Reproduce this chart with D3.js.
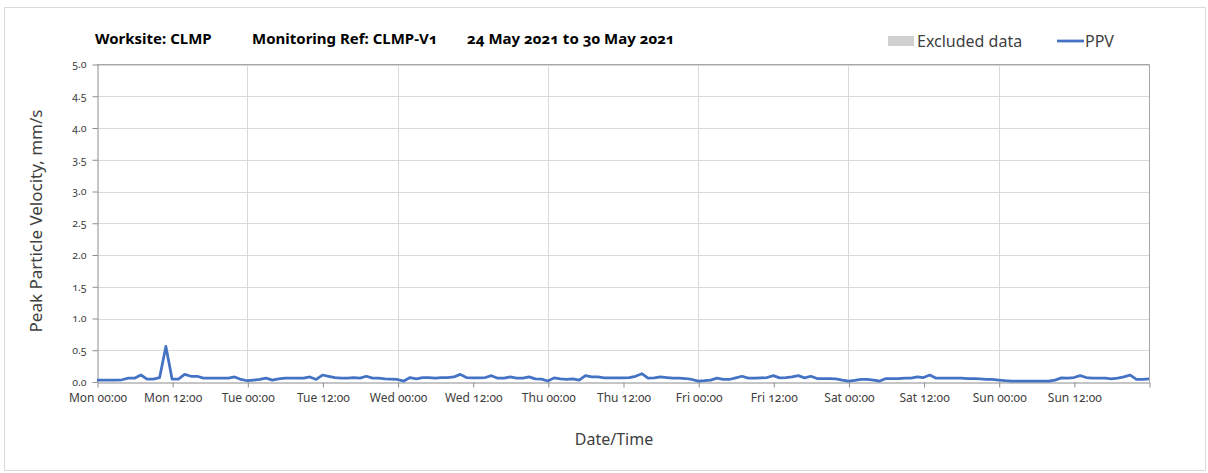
<!DOCTYPE html>
<html>
<head>
<meta charset="utf-8">
<script src="https://cdn.jsdelivr.net/npm/d3@7"></script>
<style>
  html, body { margin: 0; padding: 0; background: #ffffff; }
  svg text { font-family: "Noto Sans", "Open Sans", sans-serif; font-feature-settings: "onum" 1; }
</style>
</head>
<body>
<svg id="chart" width="1208" height="473"></svg>
<script>
// ---- DATA ----
const startDate = "2021-05-24T00:00:00";
const endDate = "2021-05-31T00:00:00";
// hourly Peak Particle Velocity (mm/s), one array per day (24 values each), plus final reading
const ppvMon = [0.03,0.03,0.03,0.03,0.035,0.06,0.06,0.11,0.045,0.045,0.07,0.56,0.045,0.045,0.12,0.09,0.09,0.06,0.06,0.06,0.06,0.06,0.08,0.04];
const ppvTue = [0.02,0.03,0.04,0.06,0.03,0.05,0.06,0.06,0.06,0.06,0.08,0.04,0.11,0.09,0.07,0.06,0.06,0.07,0.06,0.09,0.06,0.06,0.05,0.045];
const ppvWed = [0.04,0.015,0.07,0.05,0.07,0.07,0.06,0.07,0.07,0.08,0.12,0.07,0.065,0.065,0.07,0.1,0.06,0.06,0.08,0.06,0.06,0.08,0.05,0.045];
const ppvThu = [0.015,0.065,0.05,0.04,0.05,0.03,0.1,0.08,0.08,0.065,0.065,0.065,0.065,0.07,0.09,0.13,0.06,0.065,0.08,0.07,0.06,0.06,0.055,0.04];
const ppvFri = [0.015,0.02,0.03,0.06,0.04,0.04,0.065,0.09,0.06,0.06,0.065,0.07,0.1,0.065,0.07,0.08,0.1,0.065,0.09,0.055,0.055,0.055,0.05,0.03];
const ppvSat = [0.015,0.025,0.04,0.04,0.03,0.015,0.055,0.055,0.055,0.06,0.06,0.08,0.07,0.11,0.06,0.06,0.06,0.06,0.06,0.055,0.055,0.05,0.04,0.04];
const ppvSun = [0.03,0.02,0.015,0.015,0.015,0.015,0.015,0.015,0.015,0.03,0.065,0.06,0.07,0.1,0.07,0.06,0.06,0.06,0.05,0.06,0.08,0.11,0.04,0.04];
const ppvFinal = [0.05];
const yTicks = [0.0,0.5,1.0,1.5,2.0,2.5,3.0,3.5,4.0,4.5,5.0];
const titleParts = ["Worksite: CLMP", "Monitoring Ref: CLMP-V1", "24 May 2021 to 30 May 2021"];
const legendLabels = ["Excluded data", "PPV"];
const xAxisTitle = "Date/Time";
const yAxisTitle = "Peak Particle Velocity, mm/s";

// ---- BUILD ----
const ppv = [].concat(ppvMon, ppvTue, ppvWed, ppvThu, ppvFri, ppvSat, ppvSun, ppvFinal);
const t0 = new Date(startDate);
const t1 = new Date(endDate);
const series = ppv.map((v, i) => ({ t: d3.timeHour.offset(t0, i), v }));

const svg = d3.select("#chart");
const W = 1208, H = 473;
const plot = { left: 97, right: 1149, top: 64.5, bottom: 382 };

// outer frame
svg.append("rect").attr("x", 0).attr("y", 0).attr("width", W).attr("height", H).attr("fill", "#ffffff");
svg.append("rect").attr("x", 4.5).attr("y", 7.5).attr("width", 1201).attr("height", 463)
  .attr("fill", "#ffffff").attr("stroke", "#d9d9d9").attr("stroke-width", 1);

const x = d3.scaleTime().domain([t0, t1]).range([plot.left, plot.right]);
const y = d3.scaleLinear().domain([0, 5]).range([plot.bottom, plot.top]);

// horizontal grid
svg.append("g").selectAll("line").data(yTicks.slice(1)).join("line")
  .attr("x1", plot.left).attr("x2", plot.right)
  .attr("y1", d => Math.round(y(d)) + 0.5).attr("y2", d => Math.round(y(d)) + 0.5)
  .attr("stroke", "#d9d9d9").attr("stroke-width", 1);

// vertical grid at day boundaries
const dayTicks = d3.timeDay.range(d3.timeDay.offset(t0, 1), t1);
svg.append("g").selectAll("line").data(dayTicks).join("line")
  .attr("x1", d => Math.round(x(d)) + 0.5).attr("x2", d => Math.round(x(d)) + 0.5)
  .attr("y1", plot.top).attr("y2", plot.bottom)
  .attr("stroke", "#d9d9d9").attr("stroke-width", 1);

// plot border top & right
svg.append("line").attr("x1", plot.left).attr("x2", plot.right + 0.5)
  .attr("y1", plot.top).attr("y2", plot.top).attr("stroke", "#a6a6a6");
svg.append("line").attr("x1", plot.right + 0.5).attr("x2", plot.right + 0.5)
  .attr("y1", plot.top).attr("y2", plot.bottom).attr("stroke", "#a6a6a6");

// x axis
const xTickVals = d3.timeHour.every(12).range(t0, d3.timeHour.offset(t1, 1));
const xAxis = d3.axisBottom(x).tickValues(xTickVals)
  .tickFormat((d, i) => i < xTickVals.length - 1 ? d3.timeFormat("%a %H:%M")(d) : "")
  .tickSize(5).tickSizeOuter(0).tickPadding(6);
const gx = svg.append("g").attr("transform", `translate(0.5,${plot.bottom + 0.5})`).call(xAxis);
gx.select(".domain").attr("stroke", "#8c8c8c");
gx.selectAll(".tick line").attr("stroke", "#8c8c8c");
gx.selectAll(".tick text").attr("fill", "#404040").style("font-size", "12px");

// y axis
const yAxis = d3.axisLeft(y).tickValues(yTicks).tickFormat(d3.format(".1f"))
  .tickSize(5).tickSizeOuter(0).tickPadding(6);
const gy = svg.append("g").attr("transform", `translate(${plot.left + 0.5},0)`).call(yAxis);
gy.select(".domain").attr("stroke", "#8c8c8c");
gy.selectAll(".tick line").attr("stroke", "#8c8c8c");
gy.selectAll(".tick text").attr("fill", "#404040").style("font-size", "10.5px");

// line
const line = d3.line().x(d => x(d.t)).y(d => y(d.v));
svg.append("path").datum(series).attr("d", line)
  .attr("fill", "none").attr("stroke", "#4472c4").attr("stroke-width", 2.75)
  .attr("stroke-linejoin", "round");

// title
const titleX = [95, 252, 467];
svg.append("g").selectAll("text").data(titleParts).join("text")
  .attr("x", (d, i) => titleX[i]).attr("y", 44)
  .attr("fill", "#000000").style("font-size", "15px").style("font-weight", "bold")
  .text(d => d);

// legend
svg.append("rect").attr("x", 888).attr("y", 36).attr("width", 26).attr("height", 10).attr("fill", "#d0d0d0");
svg.append("text").attr("x", 917).attr("y", 47).attr("fill", "#404040").style("font-size", "16px").text(legendLabels[0]);
svg.append("line").attr("x1", 1057).attr("x2", 1084).attr("y1", 41).attr("y2", 41)
  .attr("stroke", "#4472c4").attr("stroke-width", 2.75);
svg.append("text").attr("x", 1085).attr("y", 47).attr("fill", "#404040").style("font-size", "16px").text(legendLabels[1]);

// axis titles
svg.append("text").attr("x", 614).attr("y", 445).attr("text-anchor", "middle")
  .attr("fill", "#404040").style("font-size", "16px").text(xAxisTitle);
svg.append("text").attr("transform", "translate(42,221) rotate(-90)").attr("text-anchor", "middle")
  .attr("fill", "#404040").style("font-size", "17px").text(yAxisTitle);
</script>
</body>
</html>
